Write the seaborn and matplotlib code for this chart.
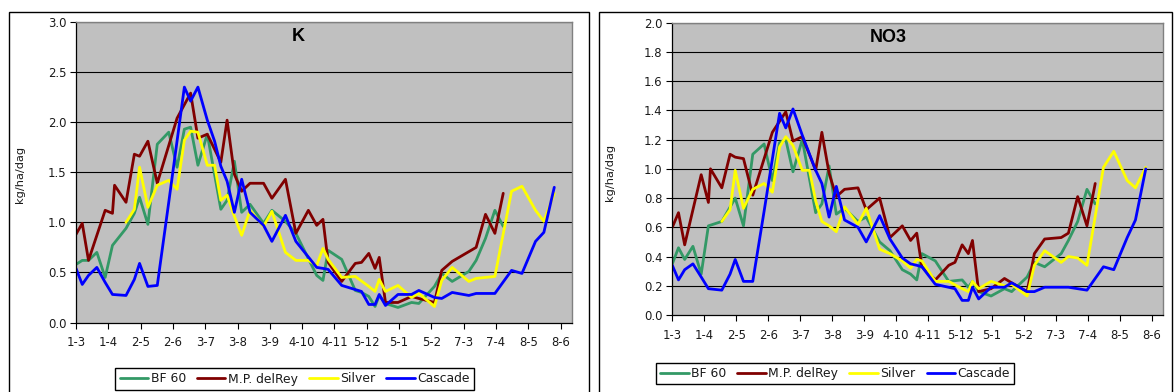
import numpy as np
import pandas as pd
import seaborn as sns
import matplotlib.pyplot as plt
from matplotlib.lines import Line2D
from matplotlib.patches import Rectangle

sns.set_theme(style="white")
plt.rcParams['font.family'] = ['DejaVu Sans']

N = None

# sampling dates, in days counted from 1 March
days = [0, 6, 12, 20, 28, 35, 37, 48, 56, 61,
        69, 78, 89, 97, 104, 110, 117, 126, 133, 139,
        145, 152, 159, 167, 180, 188, 201, 211, 223, 231,
        237, 242, 255, 268, 274, 281, 287, 291, 297, 309,
        322, 329, 344, 351, 361, 377, 384, 393, 402, 410,
        418, 428, 441, 449, 459]

tick_days = [0, 31, 62, 93, 124, 155, 186, 217, 248, 279, 310, 341, 372, 403, 434, 465]
tick_labels = ['1-3', '1-4', '2-5', '2-6', '3-7', '3-8', '3-9', '4-10', '4-11',
               '5-12', '5-1', '5-2', '7-3', '7-4', '8-5', '8-6']

cultivars = ['BF 60', 'M.P. delRey', 'Silver', 'Cascade']
colors = ['#339966', '#800000', '#FFFF00', '#0000FF']

# K uptake, kg/ha/dag
k_bf60 = [0.58, 0.62, 0.62, 0.70, 0.45, 0.77, N, 0.94, 1.09, 1.25,
          0.98, 1.78, 1.90, 1.55, 1.93, 1.95, 1.57, 1.88, N, 1.13,
          1.22, 1.61, 1.10, 1.18, 0.99, 1.12, 1.01, 0.89, N, 0.47,
          0.42, 0.72, 0.63, 0.32, 0.30, 0.26, 0.16, 0.27, 0.19, 0.15,
          0.20, 0.19, 0.36, 0.49, 0.41, 0.51, 0.62, 0.84, 1.12, 0.96,
          N, N, N, N, N]
k_delrey = [0.88, 0.99, 0.62, N, 1.12, 1.09, 1.37, 1.20, 1.68, 1.66,
            1.81, 1.39, N, 2.04, N, 2.29, 1.84, 1.88, N, 1.60,
            2.02, 1.48, 1.31, 1.39, 1.39, 1.24, 1.43, 0.89, 1.12, 0.97,
            1.03, 0.60, 0.41, 0.59, 0.60, 0.69, 0.54, 0.65, 0.20, 0.20,
            0.26, 0.24, 0.20, 0.52, 0.61, N, 0.75, 1.08, 0.89, 1.29,
            N, N, N, N, N]
k_silver = [N, N, N, N, N, N, N, 1.00, 1.13, 1.55,
            1.15, 1.37, 1.42, 1.33, 1.82, 1.91, 1.90, 1.57, 1.57, 1.22,
            1.27, 1.06, 0.87, 1.12, 0.96, 1.11, 0.70, 0.62, 0.62, 0.57,
            0.74, 0.63, 0.45, 0.46, N, 0.36, 0.31, 0.43, 0.31, 0.37,
            0.25, 0.29, 0.16, 0.42, 0.55, 0.41, 0.44, 0.45, 0.46, N,
            1.31, 1.36, 1.12, 1.01, 1.29]
k_cascade = [0.54, 0.38, 0.47, 0.55, 0.40, 0.28, N, 0.27, 0.43, 0.59,
             0.36, 0.37, 1.20, N, 2.35, 2.21, 2.35, 2.02, 1.81, 1.56,
             1.41, 1.10, 1.43, 1.10, 0.97, 0.81, 1.07, 0.81, N, 0.55,
             0.54, 0.53, 0.37, N, 0.31, 0.18, 0.18, 0.28, 0.17, 0.28,
             0.28, 0.32, 0.25, 0.24, 0.30, 0.27, 0.29, 0.29, 0.29, N,
             0.52, 0.49, 0.81, 0.90, 1.35]

# NO3 uptake, kg/ha/dag
n_bf60 = [0.35, 0.46, 0.38, 0.47, 0.28, 0.61, N, 0.64, N, 0.80,
          0.61, 1.10, 1.17, 0.92, 1.18, 1.20, 0.98, 1.20, N, 0.70,
          0.76, 1.02, 0.69, 0.73, 0.64, 0.67, 0.50, 0.44, 0.31, 0.28,
          0.24, 0.42, 0.37, 0.23, N, 0.24, 0.19, 0.23, 0.16, 0.13,
          0.18, 0.16, 0.26, 0.36, 0.33, 0.42, 0.51, 0.64, 0.86, 0.76,
          N, N, N, N, N]
n_delrey = [0.60, 0.70, 0.48, N, 0.96, 0.77, 1.00, 0.87, 1.10, 1.08,
            1.07, 0.82, N, 1.25, N, 1.39, 1.19, 1.22, N, 0.99,
            1.25, 0.97, 0.81, 0.86, 0.87, 0.72, 0.80, 0.53, 0.61, 0.51,
            0.56, 0.33, 0.24, 0.34, 0.36, 0.48, 0.42, 0.51, 0.16, 0.18,
            0.25, 0.22, 0.16, 0.42, 0.52, 0.53, 0.56, 0.81, 0.61, 0.90,
            N, N, N, N, N]
n_silver = [N, N, N, N, N, N, N, 0.64, 0.72, 0.99,
            0.73, 0.86, 0.90, 0.84, 1.15, 1.22, 1.16, 0.99, 0.99, 0.78,
            0.64, 0.61, 0.57, 0.74, 0.62, 0.73, 0.45, 0.42, 0.37, 0.32,
            0.38, 0.37, 0.23, 0.23, N, 0.18, 0.16, 0.23, 0.18, 0.23,
            0.20, 0.21, 0.13, 0.34, 0.44, 0.36, 0.40, 0.39, 0.34, N,
            1.01, 1.12, 0.92, 0.87, 1.01]
n_cascade = [0.34, 0.24, 0.31, 0.35, 0.26, 0.18, N, 0.17, 0.28, 0.38,
             0.23, 0.23, 0.71, N, 1.38, 1.28, 1.41, 1.23, N, 0.99,
             0.90, 0.67, 0.88, 0.65, 0.60, 0.50, 0.68, 0.52, 0.39, 0.35,
             0.34, 0.33, 0.21, N, 0.18, 0.10, 0.10, 0.19, 0.11, 0.19,
             0.19, 0.22, 0.16, 0.16, 0.19, 0.19, 0.19, 0.18, 0.17, N,
             0.33, 0.31, 0.53, 0.65, 1.00]


def long_frame(series):
    parts = []
    for name, vals in zip(cultivars, series):
        parts.append(pd.DataFrame({'day': days, 'value': vals, 'cultivar': name}))
    df = pd.concat(parts, ignore_index=True)
    df['value'] = pd.to_numeric(df['value'])
    return df.dropna()


W, H = 1174, 392
fig = plt.figure(figsize=(W / 100, H / 100), dpi=100)
fig.patch.set_facecolor('white')


def fx(px):
    return px / W


def fy(py):
    return 1 - py / H


# outer chart frames
for x0, x1 in [(9, 589), (599, 1172)]:
    fig.patches.append(Rectangle((fx(x0), fy(400)), fx(x1 - x0), fy(12) - fy(400),
                                 transform=fig.transFigure, fill=False,
                                 edgecolor='black', linewidth=1.0))

panels = [
    dict(series=[k_bf60, k_delrey, k_silver, k_cascade], title='K',
         box=(76, 572, 22, 322.5), ymax=3.0, ystep=0.5,
         ylab_x=20, ylab_y=174, title_x=298, title_y=36.5, leg=(294.7, 379)),
    dict(series=[n_bf60, n_delrey, n_silver, n_cascade], title='NO3',
         box=(672.3, 1163.3, 22.7, 315), ymax=2.0, ystep=0.2,
         ylab_x=610, ylab_y=172, title_x=888, title_y=37, leg=(835, 373.5)),
]

for p in panels:
    l, r, t, b = p['box']
    ax = fig.add_axes([fx(l), fy(b), fx(r - l), fy(t) - fy(b)])
    ax.set_facecolor('#C0C0C0')
    df = long_frame(p['series'])
    sns.lineplot(data=df, x='day', y='value', hue='cultivar', hue_order=cultivars,
                 palette=colors, estimator=None, sort=True, linewidth=2.0,
                 legend=False, ax=ax)
    ax.set_xlim(0, 476)
    ax.set_ylim(0, p['ymax'])
    yt = np.arange(0, p['ymax'] + 1e-9, p['ystep'])
    ax.set_yticks(yt)
    ax.set_yticklabels(['{:.1f}'.format(v) for v in yt])
    ax.set_xticks(tick_days)
    ax.set_xticklabels(tick_labels)
    for v in yt[1:]:
        ax.axhline(v, color='black', linewidth=0.8, zorder=0.5)
    ax.tick_params(axis='both', which='both', direction='out', length=4, width=0.8,
                   color='black', labelsize=8.4, labelcolor='#1a1a1a', pad=3,
                   bottom=True, left=True)
    ax.tick_params(axis='x', pad=6)
    for side in ['top', 'right']:
        ax.spines[side].set_color('#808080')
        ax.spines[side].set_linewidth(1.0)
    for side in ['left', 'bottom']:
        ax.spines[side].set_color('black')
        ax.spines[side].set_linewidth(0.9)
    ax.set_xlabel('')
    ax.set_ylabel('')
    fig.text(fx(p['title_x']), fy(p['title_y']), p['title'], fontsize=13,
             fontweight='bold', ha='center', va='center', color='black',
             family=['Liberation Sans', 'DejaVu Sans'])
    fig.text(fx(p['ylab_x']), fy(p['ylab_y']), 'kg/ha/dag', rotation=90,
             fontsize=8.2, ha='center', va='center', color='#1a1a1a')
    handles = [Line2D([], [], color=c, linewidth=2.0) for c in colors]
    lx, ly = p['leg']
    leg = fig.legend(handles, cultivars, loc='center', ncol=4,
                     bbox_to_anchor=(fx(lx), fy(ly)), bbox_transform=fig.transFigure,
                     frameon=True, fancybox=False, edgecolor='black', framealpha=1,
                     fontsize=8.9, handlelength=2.3, handletextpad=0.2,
                     columnspacing=0.9, borderpad=0.35, borderaxespad=0)
    for txt in leg.get_texts():
        txt.set_color('#1a1a1a')
    leg.get_frame().set_linewidth(1.0)

fig.savefig('out.png', dpi=100, facecolor='white')
